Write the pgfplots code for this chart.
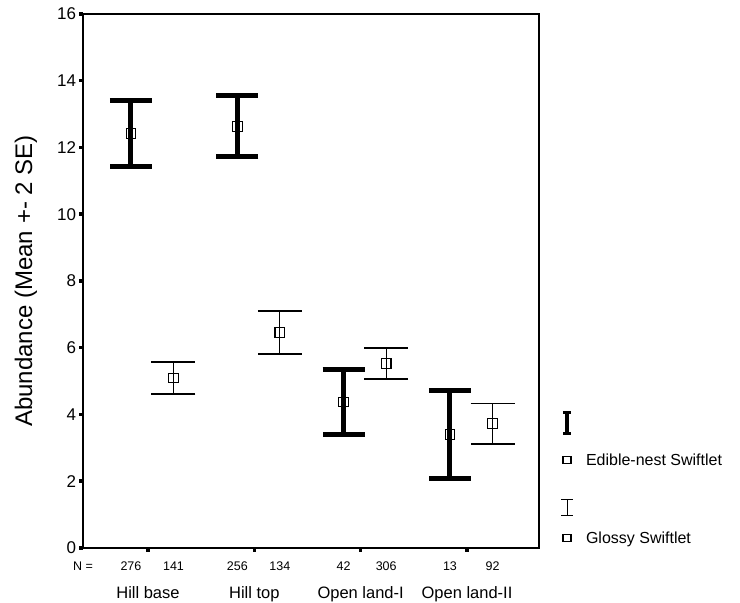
\documentclass[border=0pt]{standalone}
\usepackage{fontspec}
\setmainfont{Liberation Sans}
\usepackage{pgfplots}
\pgfplotsset{compat=1.18}
\usepackage{pgfplotstable}
\pgfplotstableread{
x y e
0.84 12.42 1.00
1.84 12.635 0.915
2.84 4.37 0.97
3.84 3.40 1.32
}\edible
\pgfplotstableread{
x y e
1.24 5.09 0.48
2.24 6.455 0.645
3.24 5.525 0.465
4.24 3.73 0.61
}\glossy
\begin{document}
\begin{tikzpicture}
\path[use as bounding box] (0,0) rectangle (740bp,603bp);
\begin{axis}[
  at={(83bp,55bp)}, anchor=south west,
  scale only axis, width=456bp, height=534bp,
  xmin=0.389, xmax=4.677, ymin=0, ymax=16,
  xtick={1,2,3,4},
  xticklabels={Hill base, Hill top, Open land-I, Open land-II},
  ytick={0,2,...,16},
  xtick pos=bottom, ytick pos=left,
  tick align=outside,
  major tick length=3.5bp,
  tick style={line width=3.5bp, black},
  axis line style={line width=1.2bp},
  /pgf/number format/assume math mode=true,
  yticklabel style={font=\fontsize{17bp}{20bp}\selectfont},
  xticklabel style={font=\fontsize{16.5bp}{19bp}\selectfont, yshift=-32bp},
  ylabel={Abundance (Mean +- 2 SE)},
  ylabel style={font=\fontsize{24bp}{28bp}\selectfont, at={(axis description cs:-0.125,0.5)}, anchor=center},
  clip=false,
  legend cell align=left,
  legend style={draw=none, fill=none, inner sep=0pt, outer sep=0pt,
    column sep=9bp, row sep=13bp,
    nodes={inner sep=0pt, font=\fontsize{16bp}{18bp}\selectfont},
    at={(axis description cs:1,0)}, anchor=south west, xshift=18bp},
]
\addlegendimage{legend image code/.code={
  \path[draw=none, fill=none] (0,-12bp) rectangle (20bp,12bp);
  \draw[black, line width=3.5bp] (10bp,-10bp)--(10bp,10bp);
  \draw[black, line width=3bp] (6bp,-10.5bp)--(14bp,-10.5bp) (6bp,10.5bp)--(14bp,10.5bp);}}
\addlegendentry{}
\addlegendimage{legend image code/.code={
  \path[draw=none, fill=none] (0,-12bp) rectangle (20bp,12bp);
  \draw[black, line width=1.2bp] (6bp,-3.5bp) rectangle (14bp,3.5bp);}}
\addlegendentry{Edible-nest Swiftlet}
\addlegendimage{legend image code/.code={
  \path[draw=none, fill=none] (0,-18.5bp) rectangle (20bp,12bp);
  \draw[black, line width=1bp] (10bp,-18bp)--(10bp,-2bp);
  \draw[black, line width=1bp] (4bp,-18bp)--(16bp,-18bp) (4bp,-2bp)--(16bp,-2bp);}}
\addlegendentry{}
\addlegendimage{legend image code/.code={
  \path[draw=none, fill=none] (0,-10bp) rectangle (20bp,9.5bp);
  \draw[black, line width=1.2bp] (6bp,-3.5bp) rectangle (14bp,3.5bp);}}
\addlegendentry{Glossy Swiftlet}

\addplot[forget plot, only marks, black, mark=square, mark size=4.8bp,
  mark options={line width=1.1bp, black},
  error bars/.cd, y dir=both, y explicit,
  error bar style={line width=5bp, black},
  error mark options={rotate=90, mark size=21bp, line width=5bp, black}]
  table[x=x, y=y, y error=e] {\edible};
\addplot[forget plot, only marks, black, mark=square, mark size=4.8bp,
  mark options={line width=1.1bp, black},
  error bars/.cd, y dir=both, y explicit,
  error bar style={line width=1.3bp, black},
  error mark options={rotate=90, mark size=22bp, line width=1.3bp, black}]
  table[x=x, y=y, y error=e] {\glossy};

\node[font=\fontsize{12.5bp}{14bp}\selectfont] at ([yshift=-18bp]rel axis cs:0,0) {N =};
\foreach \xx/\nn in {0.84/276, 1.24/141, 1.84/256, 2.24/134, 2.84/42, 3.24/306, 3.84/13, 4.24/92}{
  \edef\tmp{\noexpand\node[font=\noexpand\fontsize{12.5bp}{14bp}\noexpand\selectfont] at ([yshift=-18bp]axis cs:\xx,0) {\nn};}
  \tmp
}
\end{axis}
\end{tikzpicture}
\end{document}
